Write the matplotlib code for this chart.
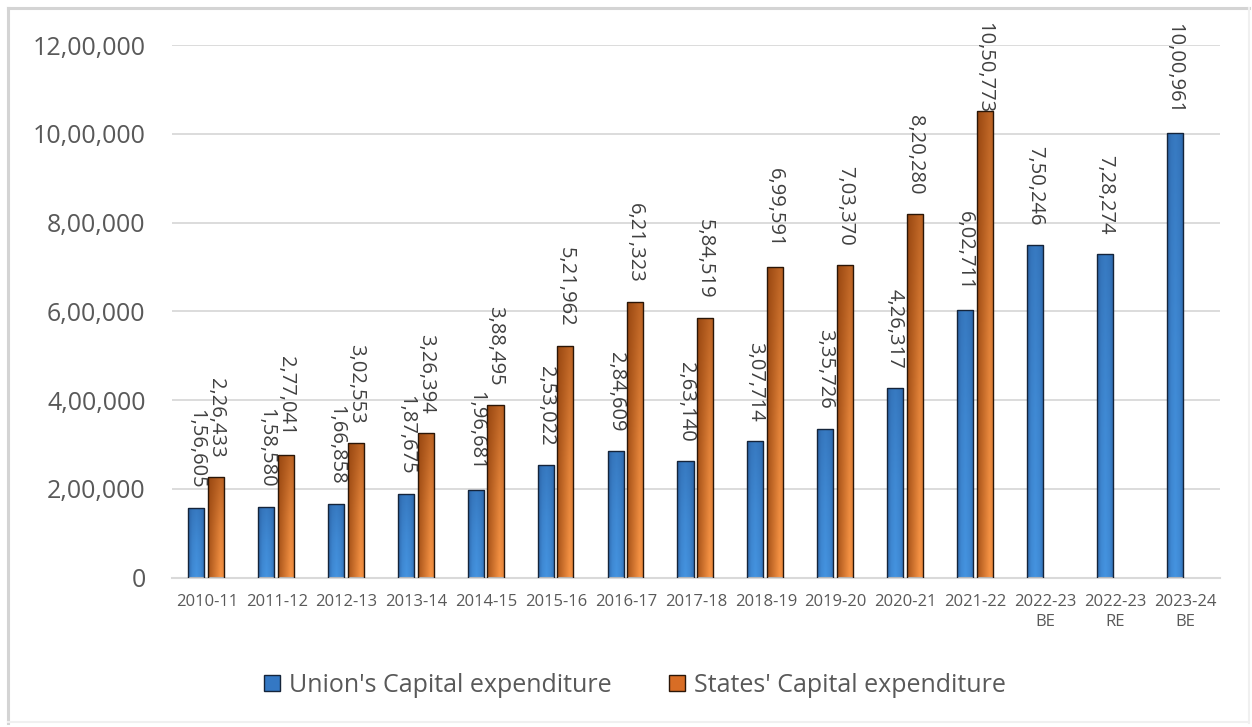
import numpy as np
import matplotlib
matplotlib.use("Agg")
import matplotlib.pyplot as plt
from matplotlib.patches import Patch
from matplotlib.lines import Line2D

plt.rcParams['font.family'] = ['Open Sans', 'DejaVu Sans']

# Capital expenditure, Rs crore
years = ['2010-11', '2011-12', '2012-13', '2013-14', '2014-15', '2015-16',
         '2016-17', '2017-18', '2018-19', '2019-20', '2020-21', '2021-22',
         '2022-23\nBE', '2022-23\nRE', '2023-24\nBE']
union_capex = [156605, 158580, 166858, 187675, 196681, 253022, 284609, 263140,
               307714, 335726, 426317, 602711, 750246, 728274, 1000961]
states_capex = [226433, 277041, 302553, 326394, 388495, 521962, 621323, 584519,
                699591, 703370, 820280, 1050773, None, None, None]
y_ticks = [0, 200000, 400000, 600000, 800000, 1000000, 1200000]
series_names = ["Union's Capital expenditure", "States' Capital expenditure"]


def indian_format(n):
    """Group digits the Indian way: 12,34,567."""
    s = str(int(n))
    if len(s) <= 3:
        return s
    head, tail = s[:-3], s[-3:]
    parts = []
    while len(head) > 2:
        parts.insert(0, head[-2:])
        head = head[:-2]
    if head:
        parts.insert(0, head)
    return ",".join(parts) + "," + tail


def gradient_rgb(dark, light, hprof, vprof, nx=40, ny=80):
    dark = np.array(dark)
    light = np.array(light)
    h = np.interp(np.linspace(0, 1, nx), np.linspace(0, 1, len(hprof)), hprof)
    v = np.interp(np.linspace(0, 1, ny), np.linspace(0, 1, len(vprof)), vprof)
    w = np.clip(np.outer(v, h), 0, 1)
    return dark + (light - dark) * w[..., None]


blue_img = gradient_rgb((0.14, 0.33, 0.58), (0.27, 0.58, 0.88),
                        [0.35, 0.85, 1.0, 0.85, 0.45], [1.0, 0.85, 0.6])
orange_img = gradient_rgb((0.55, 0.24, 0.04), (0.97, 0.58, 0.27),
                          [0.25, 0.5, 0.75, 1.0, 0.85], [1.0, 0.8, 0.45])

W, H = 1252, 727
fig = plt.figure(figsize=(W / 100, H / 100), dpi=100)
ax = fig.add_axes([172 / W, 1 - 577.7 / H, 1048 / W, (577.7 - 45) / H])

x = np.arange(len(years))
bar_w = 0.23
grid_color = '#d9d9d9'
text_color = '#595959'
label_color = '#404040'
label_offset = 14  # points above the bar top
value_labels = []


def draw_series(offset, values, img, edge):
    for xi, val in zip(x, values):
        if val is None:
            continue
        bars = ax.bar(xi + offset, val, width=bar_w, facecolor='none',
                      edgecolor=edge, linewidth=1.0, zorder=3)
        bar = bars[0]
        x0 = xi + offset - bar_w / 2
        im = ax.imshow(img, extent=(x0, x0 + bar_w, 0, val), origin='lower',
                       aspect='auto', interpolation='bilinear', zorder=2)
        im.set_clip_path(bar)
        ann = ax.annotate(indian_format(val), xy=(xi + offset, val),
                          xytext=(0, label_offset), textcoords='offset points',
                          rotation=-90, ha='center', va='bottom',
                          fontsize=14.5, color=label_color,
                          annotation_clip=False)
        value_labels.append(ann)


draw_series(-0.15, union_capex, blue_img, '#15243a')
draw_series(0.13, states_capex, orange_img, '#2a1608')

ax.set_xlim(-0.5, len(years) - 0.5)
ax.set_ylim(0, 1200000)
ax.set_yticks(y_ticks)
ax.set_yticklabels([indian_format(v) for v in y_ticks])
ax.set_xticks(x)
ax.set_xticklabels(years, linespacing=1.33)
ax.tick_params(axis='y', length=0, pad=19, labelsize=18, labelcolor=text_color)
ax.tick_params(axis='x', length=0, pad=12, labelsize=12, labelcolor=text_color)
ax.grid(axis='y', color=grid_color, linewidth=1.3, zorder=0)
ax.set_axisbelow(True)
for side in ['left', 'right', 'top']:
    ax.spines[side].set_visible(False)
ax.spines['bottom'].set_color(grid_color)
ax.spines['bottom'].set_linewidth(1.5)

handles = [Patch(facecolor='#3478c4', edgecolor='#15243a', linewidth=1.0),
           Patch(facecolor='#d86d25', edgecolor='#2a1608', linewidth=1.0)]
fig.legend(handles, series_names, loc='center', ncol=2,
           bbox_to_anchor=(635 / W, 1 - 685 / H),
           frameon=False, fontsize=18, labelcolor=text_color,
           handlelength=0.64, handleheight=0.6, handletextpad=0.36,
           columnspacing=2.3)

# keep value labels inside the chart frame: push down any that run off the top
fig.canvas.draw()
renderer = fig.canvas.get_renderer()
top_limit = H - 22
for ann in value_labels:
    bb = ann.get_window_extent(renderer)
    if bb.y1 > top_limit:
        excess_pt = (bb.y1 - top_limit) * 72 / fig.dpi
        ann.xyann = (0, label_offset - excess_pt)

# chart frame
fig.add_artist(Line2D([8 / W, 8 / W], [0.005, 1 - 8 / H],
                      transform=fig.transFigure, color='#d4d4d4', linewidth=2.2))
fig.add_artist(Line2D([8 / W, 1249 / W], [1 - 8 / H, 1 - 8 / H],
                      transform=fig.transFigure, color='#d4d4d4', linewidth=2.2))
fig.add_artist(Line2D([1249 / W, 1249 / W], [0.005, 1 - 8 / H],
                      transform=fig.transFigure, color='#f0f0f0', linewidth=1.5))
fig.add_artist(Line2D([8 / W, 1249 / W], [0.007, 0.007],
                      transform=fig.transFigure, color='#f0f0f0', linewidth=1.5))

fig.savefig('out.png', dpi=100)
